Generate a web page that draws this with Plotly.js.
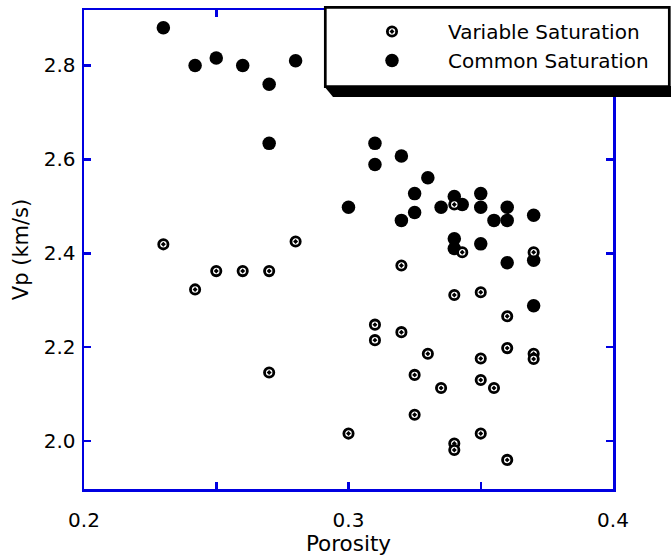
<!DOCTYPE html>
<html>
<head>
<meta charset="utf-8">
<script src="https://cdn.plot.ly/plotly-3.0.1.min.js"></script>
<style>html,body{margin:0;padding:0;background:#fff;}#chart{width:671px;height:556px;}</style>
</head>
<body>
<div id="chart"></div>
<script>
// Common saturation (filled circles)
const commonPorosity = [0.23,0.242,0.25,0.26,0.27,0.28,0.27,0.31,0.31,0.30,0.32,0.33,0.325,0.325,0.32,0.335,0.34,0.343,0.35,0.35,0.36,0.355,0.36,0.37,0.34,0.34,0.35,0.36,0.37,0.37];
const commonVp       = [2.88,2.80,2.816,2.80,2.76,2.81,2.634,2.634,2.589,2.498,2.607,2.561,2.527,2.487,2.470,2.498,2.521,2.504,2.527,2.498,2.498,2.470,2.470,2.481,2.431,2.41,2.42,2.38,2.385,2.288];
// Variable saturation (open circles with dot)
const variablePorosity = [0.23,0.28,0.242,0.25,0.26,0.27,0.27,0.30,0.31,0.31,0.32,0.34,0.35,0.36,0.32,0.33,0.35,0.36,0.37,0.37,0.325,0.335,0.35,0.355,0.325,0.35,0.34,0.34,0.36,0.343,0.37,0.34];
const variableVp       = [2.419,2.425,2.323,2.362,2.362,2.362,2.146,2.016,2.248,2.215,2.374,2.311,2.317,2.266,2.232,2.186,2.176,2.198,2.186,2.175,2.141,2.113,2.130,2.113,2.056,2.016,1.995,1.981,1.960,2.402,2.402,2.504];
const seriesNames = ['Variable Saturation','Common Saturation'];
const xTickVals = [0.2,0.25,0.3,0.35,0.4];
const xTickText = ['0.2','','0.3','','0.4'];
const yTickVals = [2.0,2.2,2.4,2.6,2.8];
const yTickText = ['2.0','2.2','2.4','2.6','2.8'];

const W = 671, H = 556, L = 84, R = 613, T = 10, B = 489;
const px = x => (x - L) / (R - L);
const py = y => (B - y) / (B - T);
const blue = 'rgb(0,0,225)';
const FONT = 'DejaVu Sans, Verdana, sans-serif';

const traces = [
  {
    type: 'scatter', mode: 'markers', name: seriesNames[1],
    x: commonPorosity, y: commonVp,
    marker: {symbol: 'circle', size: 13.5, color: '#000', line: {width: 0}}
  },
  {
    type: 'scatter', mode: 'markers', name: seriesNames[0],
    x: variablePorosity, y: variableVp,
    marker: {symbol: 'circle-dot', size: 9.3, color: '#fff', line: {color: '#000', width: 2.8}}
  }
];

const axisCommon = {
  showline: true, linecolor: blue, linewidth: 2.5, mirror: 'allticks',
  ticks: 'inside', ticklen: 7, tickwidth: 2.5, tickcolor: blue,
  showgrid: false, zeroline: false, automargin: false,
  tickfont: {family: FONT, size: 20, color: '#000'}
};

const layout = {
  width: W, height: H,
  margin: {l: L, r: W - R, t: T, b: H - B, pad: 0, autoexpand: false},
  paper_bgcolor: '#fff', plot_bgcolor: '#fff',
  showlegend: true,
  font: {family: FONT, color: '#000'},
  xaxis: Object.assign({}, axisCommon, {
    range: [0.2, 0.4], tickmode: 'array', tickvals: xTickVals, ticktext: xTickText,
    ticklabelstandoff: 11,
    title: {text: 'Porosity', font: {family: FONT, size: 21.5, color: '#000'}, standoff: 3}
  }),
  yaxis: Object.assign({}, axisCommon, {
    range: [1.898, 2.918], tickmode: 'array', tickvals: yTickVals, ticktext: yTickText,
    ticklabelstandoff: 2,
    title: {text: 'Vp (km/s)', font: {family: FONT, size: 21, color: '#000'}, standoff: 10}
  }),
  legend: {
    x: px(324), y: py(12), xanchor: 'left', yanchor: 'top',
    bgcolor: 'rgba(0,0,0,0)', borderwidth: 0,
    traceorder: 'reversed',
    font: {family: FONT, size: 20, color: '#000'},
    itemwidth: 102, indentation: 12
  },
  shapes: [
    {
      type: 'path', xref: 'paper', yref: 'paper', layer: 'above',
      path: 'M' + px(324) + ',' + py(86) + ' L' + px(333) + ',' + py(97) + ' L' + px(700) + ',' + py(97) + ' L' + px(700) + ',' + py(86) + ' Z',
      fillcolor: '#000', line: {width: 0}
    },
    {
      type: 'rect', xref: 'paper', yref: 'paper', layer: 'above',
      x0: px(325.3), x1: px(669.3), y0: py(7.3), y1: py(86.7),
      fillcolor: '#fff', line: {color: '#000', width: 2.7}
    }
  ]
};

Plotly.newPlot('chart', traces, layout, {displayModeBar: false, staticPlot: true});
</script>
</body>
</html>
